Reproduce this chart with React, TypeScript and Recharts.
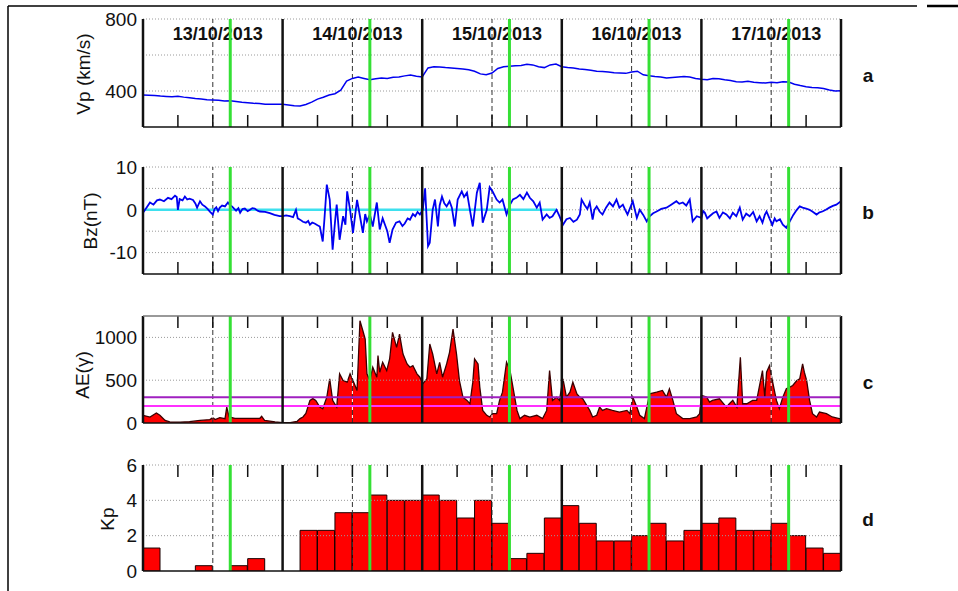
import React from "react";
import { ComposedChart, Line, Area, Bar, XAxis, YAxis, ReferenceLine } from "recharts";

const FONT = "Arial, 'Liberation Sans', Helvetica, sans-serif";
const W = 958;
const H = 591;
const PLOT_L = 143;
const PLOT_R = 841;
const YAXIS_W = 60;
const PAD = 12;

// time axis: hours from 13/10/2013 00:00 UT
const dayLabels = ["13/10/2013", "14/10/2013", "15/10/2013", "16/10/2013", "17/10/2013"];
const dayBounds = [0, 24, 48, 72, 96, 120];
const noonHours = [12, 36, 60, 84, 108];
const eventHours = [15, 39, 63, 87, 111];
const quarterTicks = [6, 12, 18, 30, 36, 42, 54, 60, 66, 78, 84, 90, 102, 108, 114];

// solar wind speed, hourly
const vp = [
  378, 377, 375, 372, 370, 368, 371, 366, 362, 358, 355, 352, 350, 348, 345, 346, 342, 338, 335, 332, 330, 327, 326, 327, 326,
  322, 318, 317, 325, 338, 355, 365, 378, 385, 405, 455, 470, 478, 470, 462, 468, 472, 470, 476, 478, 484, 489, 482, 478,
  528, 535, 533, 530, 528, 525, 522, 518, 510, 495, 490, 500, 525, 535, 538, 540, 542, 548, 545, 535, 530, 545, 550, 535,
  530, 528, 522, 520, 515, 510, 508, 505, 502, 500, 498, 505, 510, 490, 485, 480, 478, 472, 475, 478, 480, 478, 470, 465,
  462, 470, 468, 462, 458, 452, 450, 454, 448, 446, 444, 448, 446, 452, 450, 438, 430, 424, 420, 418, 414, 406, 400, 402,
];

// IMF Bz samples: [hour, nT]
const bzSamples: [number, number][] = [
  [0, -0.7], [0.6, 0.5], [1.2, 1.7], [1.8, 1.2], [2.4, 2.2], [2.9, 2.4], [3.6, 2.0], [4.3, 2.8], [4.9, 2.5], [5.5, 3.3],
  [5.8, 3.0], [6.0, 0], [6.3, 2.5], [6.8, 2.2], [7.2, 3.1], [7.6, 2.4], [8.0, 2.6], [8.6, 2.3], [9.0, 1.5], [9.3, 0.5],
  [9.8, 2.0], [10.2, 1.2], [10.65, 0.8], [11.1, 0.2], [11.5, -0.4], [12.0, -1.1], [12.3, 0.2], [12.6, 0.6], [12.9, -0.3],
  [13.2, 0.5], [13.6, 1.0], [14.1, 0.8], [14.6, 1.7], [15.0, 1.0], [15.3, 0.8], [15.7, 0.2], [16.0, -0.2], [16.4, 0.4],
  [16.7, -0.7], [17.1, 0.2], [17.5, 0.3], [18.0, -0.3], [18.4, 0], [18.8, 0.4], [19.2, 0.3], [19.7, -0.2], [20.1, -0.4],
  [21.0, -0.5], [21.8, -0.8], [22.6, -1.2], [23.5, -1.5],
  [24.05, -1.5], [24.6, -1.3], [25.25, -1.5], [25.8, -1.7], [26.3, 0], [26.6, -2.0], [27.0, -2.3], [27.5, -2.8], [28.0, -3.0],
  [28.4, -2.6], [28.7, -3.5], [29.1, -3.0], [29.5, -3.2], [30.0, -3.6], [30.4, -3.9], [30.9, -7.4], [31.2, -2.0], [31.6, 5.9],
  [32.1, 2.4], [32.6, -9.3], [33.0, -3.0], [33.3, 1.2], [33.8, -7.0], [34.4, -1.5], [34.8, -3.5], [35.1, 4.3], [35.6, 0],
  [36.1, -5.4], [36.8, 2.3], [37.3, -1.5], [37.8, -5.4], [38.2, -1.0], [38.5, -2.7], [39.0, -1.1], [39.5, -3.9], [40.2, 1.7],
  [40.7, -4.6], [41.2, -2.0], [41.6, -3.5], [42.0, -5.0], [42.4, -7.7], [42.9, -4.6], [43.5, -3.0], [44.1, -2.7], [44.6, -3.8],
  [45.0, -3.2], [45.5, -2.0], [45.9, -2.3], [46.4, -1.0], [46.8, -1.5], [47.2, -0.5], [47.6, -1.1],
  [48.1, 0], [48.5, 5.0], [49.0, -8.5], [49.3, -7.7], [49.8, 0], [50.2, 2.4], [50.7, -3.9], [51.0, 1.0], [51.4, 3.1],
  [51.8, 1.5], [52.2, 0.8], [52.7, 2.0], [53.1, 0.5], [53.6, -3.9], [54.1, 2.4], [54.8, 4.3], [55.2, 3.0], [55.7, 4.0],
  [56.2, 0], [56.7, -3.9], [57.4, 4.0], [57.9, 6.3], [58.4, -3.0], [59.1, 0], [59.6, 5.3], [60.1, 4.3], [60.8, 2.4],
  [61.3, 1.7], [61.8, 2.4], [62.5, -1.1], [63.1, 1.2], [63.6, 2.4], [64.2, 2.8], [64.8, 3.5], [65.4, 2.5], [66.0, 4.0],
  [66.5, 2.8], [67.1, 2.0], [67.7, 0.5], [68.2, 1.7], [68.7, -2.3], [69.4, -1.1], [69.9, -1.9], [70.4, -1.5], [71.1, 0],
  [71.6, -1.5],
  [72.2, -3.5], [72.8, -2.2], [73.4, -1.9], [74.0, -2.8], [74.6, -2.3], [75.1, -1.1], [75.4, 2.4], [75.9, 1.2], [76.4, 0.2],
  [76.8, 1.7], [77.3, -2.3], [77.6, 0.0], [78.0, 0.8], [78.5, -0.4], [79.0, -1.1], [79.6, 0.5], [80.2, 1.7], [80.8, 0.8],
  [81.4, 2.4], [81.9, 0.5], [82.5, 1.2], [82.9, 0.0], [83.3, -1.1], [84.2, 2.0], [84.9, -1.9], [85.4, 0], [86.0, -1.2],
  [86.6, -2.7], [87.1, -1.5], [87.7, -0.8], [88.3, -0.4], [89.1, 0.2], [90.0, 0.5], [90.8, 1.2], [91.7, 2.0], [92.2, 1.4],
  [92.8, 1.7], [93.4, 1.0], [94.0, 2.4], [94.5, -2.7], [95.2, -1.5],
  [96.0, -1.9], [96.3, -0.3], [96.6, -0.7], [97.0, -2.0], [97.4, -1.5], [98.0, -0.8], [98.6, -0.4], [99.1, -1.9], [99.7, -0.6],
  [100.3, -1.1], [100.9, -2.0], [101.4, -0.7], [102.0, -1.5], [102.6, 0.5], [103.1, -2.3], [103.7, -0.9], [104.3, -1.5],
  [104.9, -0.5], [105.5, -2.7], [106.0, -1.5], [106.5, -3.0], [106.9, -1.2], [107.2, -0.4], [107.7, -2.0], [108.2, -3.5],
  [108.6, -2.0], [108.9, -2.7], [109.5, -2.2], [110.0, -3.5], [110.6, -4.2], [111.2, -2.7], [111.8, -1.2], [112.4, 0],
  [112.9, 0.8], [113.4, 0.5], [114.0, 0.3], [114.6, 0], [115.2, -0.5], [115.8, -1.1], [116.3, -0.6], [116.8, -0.4],
  [117.4, 0.0], [118.0, 0.5], [118.6, 0.9], [119.2, 1.2], [120, 2.0],
];

// AE index
const aeHours = [
  0, 1.2, 2.3, 2.9, 3.8, 4.6, 6.4, 8.0, 9.8, 11.5, 12.0, 12.4, 13.2, 14.1, 14.4, 14.8, 15.8, 17.5, 20.1, 20.4, 20.9, 22.7,
  24.0, 25.3, 26.5, 27.0, 27.5, 28.0, 28.7, 29.2, 29.7, 30.4, 30.9, 31.6, 32.1, 32.6, 33.3, 33.8, 34.4, 35.1, 35.6, 36.1,
  36.8, 37.3, 37.8, 38.2, 38.5, 39.0, 39.5, 40.2, 40.4, 40.7, 41.2, 41.9, 42.4, 42.9, 43.6, 44.1, 44.7, 45.4, 45.9, 46.4,
  47.1, 47.6, 48.1, 48.8, 49.3, 49.8, 50.5, 51.0, 51.5, 52.2, 52.7, 53.3, 53.9, 54.4, 55.0, 55.7, 56.2, 56.7, 57.0, 57.6,
  57.9, 58.4, 59.1, 59.6, 60.1, 60.8, 61.3, 61.8, 62.5, 63.1, 63.6, 64.3, 64.8, 65.6, 66.5, 67.7, 68.7, 69.4, 69.9, 70.4,
  71.1, 71.6, 72.2, 72.8, 73.4, 73.9, 74.6, 75.1, 75.6, 76.8, 77.3, 78.0, 78.5, 79.0, 79.7, 80.7, 81.9, 83.2, 83.7, 84.2,
  84.9, 85.4, 86.2, 87.1, 88.3, 89.3, 90.0, 90.5, 91.1, 91.7, 92.8, 94.0, 95.2, 95.7, 96.0, 96.9, 97.4, 97.9, 99.1, 100.3,
  100.8, 101.4, 102.1, 102.7, 103.1, 103.8, 104.8, 105.5, 106.5, 106.9, 107.2, 107.7, 108.2, 108.9, 109.4, 110.0, 110.6,
  111.2, 111.7, 112.4, 112.9, 113.4, 113.7, 114.1, 114.6, 115.1, 115.8, 116.3, 117.5, 118.5, 119.7, 120,
];
const aeValues = [
  90, 70, 116, 90, 30, 12, 10, 15, 30, 40, 63, 40, 63, 51, 186, 70, 55, 55, 55, 78, 31, 12,
  5, 5, 20, 51, 70, 113, 264, 285, 264, 186, 167, 302, 516, 264, 186, 574, 496, 477, 574, 496,
  380, 1194, 1078, 981, 574, 496, 651, 535, 787, 593, 709, 612, 748, 1058, 884, 1039, 806, 690, 651, 670,
  574, 535, 458, 516, 923, 806, 574, 709, 535, 690, 826, 1097, 806, 496, 302, 264, 225, 477, 748, 690,
  419, 147, 90, 70, 109, 109, 264, 360, 709, 612, 419, 147, 51, 90, 70, 90, 51, 147, 612, 264,
  302, 264, 516, 302, 360, 477, 340, 302, 283, 147, 70, 90, 186, 147, 167, 147, 128, 147, 109, 302,
  186, 90, 51, 341, 360, 380, 302, 400, 264, 109, 51, 51, 70, 109, 322, 302, 244, 264, 283, 186,
  225, 264, 186, 767, 225, 225, 264, 264, 612, 302, 593, 670, 496, 264, 167, 302, 400,
  419, 438, 496, 516, 690, 593, 496, 264, 109, 70, 128, 109, 70, 51, 50,
];
const aeLevels = [300, 200];

// Kp, 3-hourly
const kp = [
  1.3, 0, 0, 0.3, 0, 0.3, 0.7, 0,
  0, 2.3, 2.3, 3.3, 3.3, 4.3, 4.0, 4.0,
  4.3, 4.0, 3.0, 4.0, 2.7, 0.7, 1.0, 3.0,
  3.7, 2.7, 1.7, 1.7, 2.0, 2.7, 1.7, 2.3,
  2.7, 3.0, 2.3, 2.3, 2.7, 2.0, 1.3, 1.0,
];

const vpData = vp.map((v, i) => ({ t: i, v }));
const bzData = bzSamples.map(([t, v]) => ({ t, v }));
const aeData = aeHours.map((t, i) => ({ t, v: aeValues[i] }));
const kpData = kp.map((v, i) => ({ bin: String(i), h: i * 3 + 1.5, v }));

type Panel = {
  top: number;
  h: number;
  domain: [number, number];
  ticks: number[];
  grid: number[];
  ticksOnTop: boolean;
  solidTop?: boolean;
};

const panelA: Panel = { top: 19, h: 108, domain: [200, 800], ticks: [400, 800], grid: [400, 600, 800], ticksOnTop: false };
const panelB: Panel = { top: 167, h: 107, domain: [-15, 10], ticks: [-10, 0, 10], grid: [-10, -5, 0, 5, 10], ticksOnTop: false };
const panelC: Panel = { top: 316, h: 107, domain: [0, 1250], ticks: [0, 500, 1000], grid: [500, 1000], ticksOnTop: true, solidTop: true };
const panelD: Panel = { top: 465, h: 106, domain: [0, 6], ticks: [0, 2, 4, 6], grid: [2, 4, 6], ticksOnTop: true };

const titles = [
  { text: "Vp (km/s)", x: 83, y: 74 },
  { text: "Bz(nT)", x: 90, y: 221 },
  { text: "AE(\u03b3)", x: 82, y: 375 },
  { text: "Kp", x: 107, y: 519 },
];
const letters = [
  { text: "a", y: 75 },
  { text: "b", y: 212 },
  { text: "c", y: 382 },
  { text: "d", y: 519 },
];

function backLines(p: Panel) {
  const els: React.ReactNode[] = [];
  p.grid.forEach((v) =>
    els.push(<ReferenceLine key={"g" + v} xAxisId="t" y={v} stroke="#9a9a9a" strokeWidth={1} strokeDasharray="1 2" />)
  );
  noonHours.forEach((h) =>
    els.push(<ReferenceLine key={"n" + h} xAxisId="t" x={h} stroke="#333" strokeWidth={1} strokeDasharray="5 3" />)
  );
  return els;
}

// white dashes filling the gaps of the noon lines, visible only over the red AE fill
function noonGaps() {
  return noonHours.map((h) => (
    <ReferenceLine key={"w" + h} xAxisId="t" x={h} stroke="#fff" strokeWidth={1} strokeDasharray="3 5" strokeDashoffset={-5} />
  ));
}

function frontLines(p: Panel) {
  const [lo, hi] = p.domain;
  const tickLen = (12 / p.h) * (hi - lo);
  const els: React.ReactNode[] = [];
  dayBounds.forEach((h) =>
    els.push(<ReferenceLine key={"d" + h} xAxisId="t" x={h} stroke="#111" strokeWidth={2.5} />)
  );
  eventHours.forEach((h) =>
    els.push(<ReferenceLine key={"e" + h} xAxisId="t" x={h} stroke="#35e035" strokeWidth={3} />)
  );
  quarterTicks.forEach((h) =>
    els.push(
      <ReferenceLine
        key={"q" + h}
        xAxisId="t"
        segment={p.ticksOnTop ? [{ x: h, y: hi }, { x: h, y: hi - tickLen }] : [{ x: h, y: lo }, { x: h, y: lo + tickLen }]}
        stroke="#111"
        strokeWidth={1.5}
      />
    )
  );
  els.push(<ReferenceLine key="bottom" xAxisId="t" y={lo} stroke="#111" strokeWidth={1.5} />);
  if (p.solidTop) els.push(<ReferenceLine key="top" xAxisId="t" y={hi} stroke="#777" strokeWidth={1.5} />);
  return els;
}

function dateLabels() {
  return noonHours.map((h, i) => (
    <ReferenceLine
      key={"lbl" + h}
      xAxisId="t"
      x={h}
      stroke="none"
      label={(props: any) => {
        const vb = props.viewBox || {};
        return (
          <text
            x={(vb.x || 0) + 5}
            y={(vb.y || 0) + 21}
            textAnchor="middle"
            fontFamily={FONT}
            fontSize={18}
            fontWeight="bold"
            fill="#111"
          >
            {dayLabels[i]}
          </text>
        );
      }}
    />
  ));
}

function yAxis(p: Panel) {
  return (
    <YAxis
      type="number"
      domain={p.domain}
      ticks={p.ticks}
      interval={0}
      allowDataOverflow
      width={YAXIS_W}
      axisLine={false}
      tickLine={false}
      tickSize={0}
      tickMargin={6}
      tick={{ fontSize: 19, fill: "#111", fontFamily: FONT }}
    />
  );
}

const margin = { top: PAD, right: W - PLOT_R, bottom: PAD, left: PLOT_L - YAXIS_W };

function box(p: Panel, chart: React.ReactNode) {
  return <div style={{ position: "absolute", left: 0, top: p.top - PAD }}>{chart}</div>;
}

export default function App() {
  return (
    <div style={{ position: "absolute", left: 0, top: 0, width: W, height: H, background: "#fff", overflow: "hidden" }}>
      {box(
        panelA,
        <ComposedChart width={W} height={panelA.h + 2 * PAD} data={vpData} margin={margin}>
          <XAxis xAxisId="t" type="number" dataKey="t" domain={[0, 120]} hide allowDataOverflow />
          {yAxis(panelA)}
          {backLines(panelA)}
          {dateLabels()}
          <Line xAxisId="t" type="linear" dataKey="v" stroke="#0000f0" strokeWidth={1.5} dot={false} isAnimationActive={false} />
          {frontLines(panelA)}
        </ComposedChart>
      )}
      {box(
        panelB,
        <ComposedChart width={W} height={panelB.h + 2 * PAD} data={bzData} margin={margin}>
          <XAxis xAxisId="t" type="number" dataKey="t" domain={[0, 120]} hide allowDataOverflow />
          {yAxis(panelB)}
          {backLines(panelB)}
          <ReferenceLine xAxisId="t" segment={[{ x: 0, y: 0 }, { x: 71, y: 0 }]} stroke="#3ee0ee" strokeWidth={2.5} />
          <Line xAxisId="t" type="linear" dataKey="v" stroke="#0000f0" strokeWidth={1.8} dot={false} isAnimationActive={false} />
          {frontLines(panelB)}
        </ComposedChart>
      )}
      {box(
        panelC,
        <ComposedChart width={W} height={panelC.h + 2 * PAD} data={aeData} margin={margin}>
          <XAxis xAxisId="t" type="number" dataKey="t" domain={[0, 120]} hide allowDataOverflow />
          {yAxis(panelC)}
          {backLines(panelC)}
          <Area
            xAxisId="t"
            type="linear"
            dataKey="v"
            stroke="#3a0000"
            strokeWidth={1.3}
            fill="#ff0000"
            fillOpacity={1}
            baseValue={0}
            isAnimationActive={false}
          />
          {noonGaps()}
          <ReferenceLine xAxisId="t" y={aeLevels[0]} stroke="#a020c0" strokeWidth={2} />
          <ReferenceLine xAxisId="t" y={aeLevels[1]} stroke="#ff30ff" strokeWidth={2} />
          {frontLines(panelC)}
        </ComposedChart>
      )}
      {box(
        panelD,
        <ComposedChart width={W} height={panelD.h + 2 * PAD} data={kpData} margin={margin} barCategoryGap={0} barGap={0}>
          <XAxis xAxisId="bin" type="category" dataKey="bin" hide />
          <XAxis xAxisId="t" type="number" dataKey="h" domain={[0, 120]} hide allowDataOverflow />
          {yAxis(panelD)}
          {backLines(panelD)}
          <Bar xAxisId="bin" dataKey="v" fill="#ff0000" stroke="#1a0000" strokeWidth={1} isAnimationActive={false} />
          {frontLines(panelD)}
        </ComposedChart>
      )}
      <svg width={W} height={H} style={{ position: "absolute", left: 0, top: 0, pointerEvents: "none" }}>
        <line x1={8} y1={6} x2={917} y2={6} stroke="#000" strokeWidth={1.5} />
        <line x1={927} y1={6} x2={958} y2={6} stroke="#000" strokeWidth={2.5} />
        <line x1={8} y1={6} x2={8} y2={H} stroke="#000" strokeWidth={1.5} />
        {titles.map((t) => (
          <text
            key={t.text}
            x={t.x}
            y={t.y}
            transform={`rotate(-90 ${t.x} ${t.y})`}
            textAnchor="middle"
            dominantBaseline="central"
            fontFamily={FONT}
            fontSize={19}
            fill="#111"
          >
            {t.text}
          </text>
        ))}
        {letters.map((l) => (
          <text
            key={l.text}
            x={868}
            y={l.y}
            textAnchor="middle"
            dominantBaseline="central"
            fontFamily={FONT}
            fontSize={19}
            fontWeight="bold"
            fill="#111"
          >
            {l.text}
          </text>
        ))}
      </svg>
    </div>
  );
}
